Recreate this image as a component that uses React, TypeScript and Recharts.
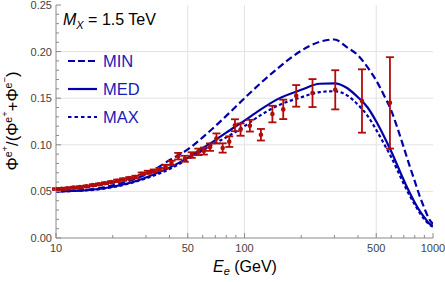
import React from 'react';
import { ComposedChart, Line, Scatter, XAxis, YAxis, ErrorBar, ReferenceLine } from 'recharts';

// ---- model curves (energy grid shared by all three) ----
const curveE = [10, 15, 20, 25, 30, 40, 50, 60, 70, 80, 100, 120, 150, 200, 250, 300, 350, 400, 450, 500, 550, 600, 650, 700, 750, 800, 850, 900, 950, 1000];
const minVals = [0.050, 0.052, 0.0565, 0.062, 0.068, 0.0835, 0.095, 0.108, 0.120, 0.131, 0.150, 0.165, 0.182, 0.201, 0.2105, 0.213, 0.2045, 0.196, 0.183, 0.169, 0.153, 0.137, 0.117, 0.097, 0.078, 0.061, 0.045, 0.032, 0.021, 0.015];
const medVals = [0.050, 0.0515, 0.055, 0.0595, 0.065, 0.0755, 0.086, 0.0965, 0.105, 0.113, 0.126, 0.137, 0.149, 0.159, 0.1655, 0.166, 0.161, 0.151, 0.140, 0.125, 0.109, 0.093, 0.077, 0.062, 0.049, 0.038, 0.029, 0.022, 0.016, 0.013];
const maxVals = [0.050, 0.0513, 0.0545, 0.059, 0.064, 0.074, 0.0845, 0.094, 0.102, 0.108, 0.120, 0.131, 0.142, 0.151, 0.1565, 0.1575, 0.153, 0.143, 0.131, 0.116, 0.101, 0.087, 0.072, 0.058, 0.046, 0.036, 0.027, 0.020, 0.015, 0.012];

// ---- measured positron fraction ----
const dataE = [10.0, 10.7, 11.5, 12.4, 13.4, 14.5, 15.7, 16.9, 18.2, 19.6, 21.1, 22.7, 24.5, 26.4, 28.5, 30.7, 33.0, 35.4, 38.1, 41.0, 44.5, 48.3, 52.5, 56.9, 60.9, 65.6, 71.0, 76.6, 83.0, 89.0, 95.3, 106.8, 122.2, 140.6, 160.5, 188.0, 229.5, 303.0, 420.0, 591.0];
const dataVals = [0.0525, 0.0527, 0.0532, 0.0540, 0.0546, 0.0554, 0.0567, 0.0576, 0.0588, 0.0600, 0.0614, 0.0627, 0.0641, 0.0655, 0.0690, 0.0705, 0.0718, 0.0735, 0.0766, 0.0806, 0.0878, 0.0850, 0.0890, 0.0924, 0.0933, 0.0975, 0.1068, 0.0966, 0.1034, 0.1210, 0.1163, 0.1205, 0.1108, 0.1330, 0.1380, 0.1525, 0.1555, 0.1590, 0.1470, 0.1450];
const dataErr = [0.0010, 0.0010, 0.0010, 0.0010, 0.0010, 0.0010, 0.0010, 0.0010, 0.0010, 0.0010, 0.0013, 0.0013, 0.0013, 0.0013, 0.0013, 0.0017, 0.0017, 0.0017, 0.0020, 0.0023, 0.0035, 0.0032, 0.0030, 0.0035, 0.0038, 0.0040, 0.0054, 0.0050, 0.0057, 0.0064, 0.0066, 0.0063, 0.0062, 0.0089, 0.0104, 0.0116, 0.0150, 0.0210, 0.0340, 0.0490];

// ---- ticks ----
const xMajorTicks = [10, 50, 100, 500, 1000];
const xMinorTicks = [20, 30, 40, 60, 70, 80, 90, 200, 300, 400, 600, 700, 800, 900];
const xGridValues = [50, 100, 500];
const yMajorTicks = [0, 0.05, 0.1, 0.15, 0.2, 0.25];
const yMinorTicks = [0.01, 0.02, 0.03, 0.04, 0.06, 0.07, 0.08, 0.09, 0.11, 0.12, 0.13, 0.14, 0.16, 0.17, 0.18, 0.19, 0.21, 0.22, 0.23, 0.24];
const yGridValues = [0.05, 0.1, 0.15, 0.2];
const yTickLabels = ['0.00', '0.05', '0.10', '0.15', '0.20', '0.25'];

const seriesNames = ['MIN', 'MED', 'MAX'];

const W = 445;
const H = 282;
const FRAME = '#8a8a8a';
const TICKTXT = '#444444';
const BLUE = '#0000aa';
const BLUE_TXT = '#1a1ab8';
const RED = '#b00c0c';
const FONT = '"Liberation Sans", Arial, sans-serif';

const minData = curveE.map((x, i) => ({ x, y: minVals[i] }));
const medData = curveE.map((x, i) => ({ x, y: medVals[i] }));
const maxData = curveE.map((x, i) => ({ x, y: maxVals[i] }));
const pointData = dataE.map((x, i) => ({ x, y: dataVals[i], err: dataErr[i] }));

const allXTicks = [...xMajorTicks, ...xMinorTicks].sort((a, b) => a - b);
const allYTicks = [...yMajorTicks, ...yMinorTicks].sort((a, b) => a - b);

const isMajorY = (v: number) => yMajorTicks.some((m) => Math.abs(m - v) < 1e-9);

const XTick = (side: 'bottom' | 'top') => (props: any) => {
  const { x, y, payload } = props;
  const v = payload.value;
  const major = xMajorTicks.includes(v);
  const len = major ? 5 : 3;
  const dir = side === 'bottom' ? -1 : 1;
  return (
    <g>
      <line x1={x} x2={x} y1={y} y2={y + dir * len} stroke={FRAME} strokeWidth={1} />
      {side === 'bottom' && major && (
        <text x={x} y={y + 14} textAnchor="middle" fontSize={11} fontFamily={FONT} fill={TICKTXT}>
          {v}
        </text>
      )}
    </g>
  );
};

const YTick = (side: 'left' | 'right') => (props: any) => {
  const { x, y, payload } = props;
  const v = payload.value;
  const major = isMajorY(v);
  const len = major ? 5 : 3;
  const dir = side === 'left' ? 1 : -1;
  const idx = yMajorTicks.findIndex((m) => Math.abs(m - v) < 1e-9);
  return (
    <g>
      <line x1={x} x2={x + dir * len} y1={y} y2={y} stroke={FRAME} strokeWidth={1} />
      {side === 'left' && major && (
        <text x={x - 4} y={y + 4} textAnchor="end" fontSize={11} fontFamily={FONT} fill={TICKTXT}>
          {yTickLabels[idx]}
        </text>
      )}
    </g>
  );
};

const dot = (p: any) => <circle cx={p.cx} cy={p.cy} r={2.3} fill={RED} />;

const Overlay = () => (
  <svg width={W} height={H} style={{ position: 'absolute', left: 0, top: 0, pointerEvents: 'none' }}>
    {/* M_X label */}
    <text x={63} y={25} fontSize={16} fontFamily={FONT} fill="#000">
      <tspan fontStyle="italic">M</tspan>
      <tspan fontStyle="italic" fontSize={11} dy={4}>X</tspan>
      <tspan dy={-4}> = 1.5 TeV</tspan>
    </text>
    {/* legend */}
    {seriesNames.map((name, i) => {
      const base = 67 + i * 28;
      const dash = i === 0 ? '7 3' : i === 2 ? '3.5 3' : undefined;
      return (
        <g key={name}>
          <line x1={68} x2={97} y1={base - 6} y2={base - 6} stroke={BLUE} strokeWidth={2.2} strokeDasharray={dash} />
          <text x={103} y={base} fontSize={16.5} fontFamily={FONT} fill={BLUE_TXT}>
            {name}
          </text>
        </g>
      );
    })}
    {/* x label */}
    <text x={245} y={272} textAnchor="middle" fontSize={16} fontFamily={FONT} fill="#000">
      <tspan fontStyle="italic">E</tspan>
      <tspan fontStyle="italic" fontSize={11} dy={3}>e</tspan>
      <tspan dy={-3}> (GeV)</tspan>
    </text>
    {/* y label */}
    <text transform="translate(17.5,121) rotate(-90)" textAnchor="middle" fontSize={16.5} fontFamily={FONT} fill="#000">
      <tspan>Φ</tspan>
      <tspan fontSize={10.5} dy={-6}>e</tspan>
      <tspan fontSize={9.5} dy={-3.5}>+</tspan>
      <tspan dy={9.5}>/(Φ</tspan>
      <tspan fontSize={10.5} dy={-6}>e</tspan>
      <tspan fontSize={9.5} dy={-3.5}>+</tspan>
      <tspan dy={9.5}>+Φ</tspan>
      <tspan fontSize={10.5} dy={-6}>e</tspan>
      <tspan fontSize={9.5} dy={-3.5}>−</tspan>
      <tspan dy={9.5}>)</tspan>
    </text>
  </svg>
);

export default function App() {
  return (
    <div style={{ position: 'absolute', left: 0, top: 0, width: W, height: H, background: '#fff' }}>
      <ComposedChart width={W} height={H} margin={{ top: 5, right: 12, left: 0, bottom: 0 }}>
        <XAxis
          xAxisId={0}
          dataKey="x"
          type="number"
          scale="log"
          domain={[10, 1000]}
          allowDataOverflow
          ticks={allXTicks}
          interval={0}
          height={44}
          tickSize={0}
          tickMargin={0}
          tickLine={false}
          axisLine={{ stroke: FRAME }}
          tick={XTick('bottom')}
        />
        <XAxis
          xAxisId="top"
          orientation="top"
          dataKey="x"
          type="number"
          scale="log"
          domain={[10, 1000]}
          allowDataOverflow
          ticks={allXTicks}
          interval={0}
          height={0}
          tickSize={0}
          tickMargin={0}
          tickLine={false}
          axisLine={{ stroke: FRAME }}
          tick={XTick('top')}
        />
        <YAxis
          yAxisId={0}
          dataKey="y"
          type="number"
          domain={[0, 0.25]}
          allowDataOverflow
          ticks={allYTicks}
          interval={0}
          width={56}
          tickSize={0}
          tickMargin={0}
          tickLine={false}
          axisLine={{ stroke: FRAME }}
          tick={YTick('left')}
        />
        <YAxis
          yAxisId="right"
          orientation="right"
          type="number"
          domain={[0, 0.25]}
          allowDataOverflow
          ticks={allYTicks}
          interval={0}
          width={0}
          tickSize={0}
          tickMargin={0}
          tickLine={false}
          axisLine={{ stroke: FRAME }}
          tick={YTick('right')}
        />
        {xGridValues.map((v) => (
          <ReferenceLine key={'gx' + v} x={v} stroke="#e3e3e3" strokeWidth={1} />
        ))}
        {yGridValues.map((v) => (
          <ReferenceLine key={'gy' + v} y={v} stroke="#e3e3e3" strokeWidth={1} />
        ))}
        <Line data={maxData} dataKey="y" type="monotone" stroke={BLUE} strokeWidth={2.2} strokeDasharray="3.3 2.5" dot={false} activeDot={false} isAnimationActive={false} />
        <Line data={minData} dataKey="y" type="monotone" stroke={BLUE} strokeWidth={2.2} strokeDasharray="7 3.5" dot={false} activeDot={false} isAnimationActive={false} />
        <Line data={medData} dataKey="y" type="monotone" stroke={BLUE} strokeWidth={2.2} dot={false} activeDot={false} isAnimationActive={false} />
        <Scatter data={pointData} dataKey="y" fill={RED} shape={dot} isAnimationActive={false}>
          <ErrorBar dataKey="err" direction="y" width={4} stroke={RED} strokeWidth={1.8} />
        </Scatter>
      </ComposedChart>
      <Overlay />
    </div>
  );
}
